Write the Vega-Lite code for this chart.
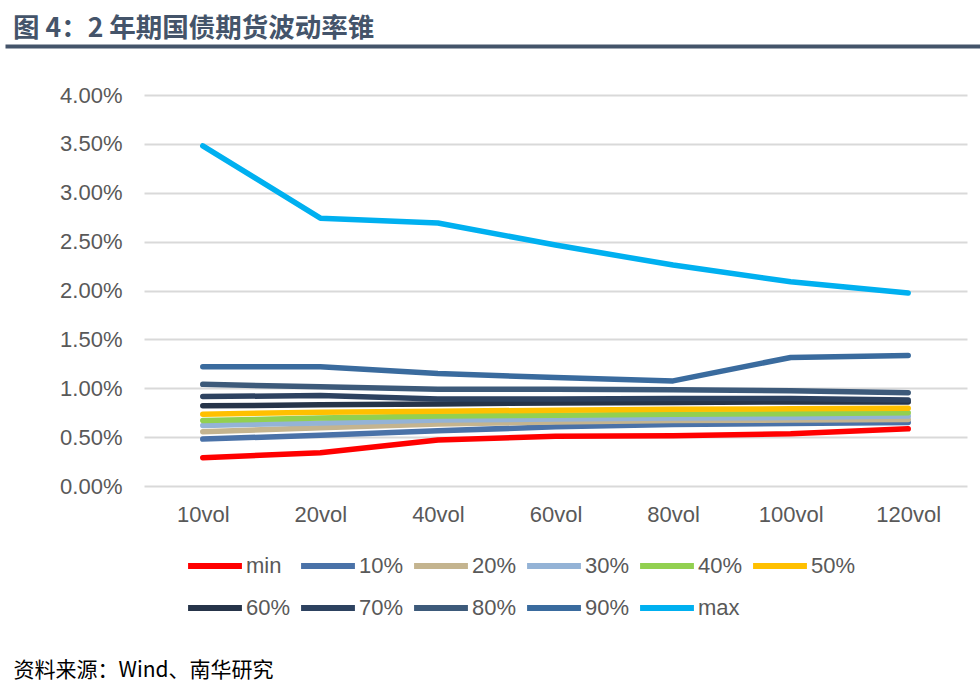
{
  "$schema": "https://vega.github.io/schema/vega-lite/v6.json",
  "autosize": {"type": "none"},
  "padding": {"left": 144, "top": 95, "right": 13, "bottom": 209},
  "width": 823,
  "height": 391,
  "background": "white",
  "title": {
    "text": "图 4：2 年期国债期货波动率锥",
    "anchor": "start",
    "frame": "group",
    "dx": -131,
    "offset": 4,
    "fontSize": 26.5,
    "fontWeight": "bold",
    "font": "Noto Sans CJK SC",
    "color": "#44546A"
  },
  "config": {
    "view": {"stroke": null},
    "font": "Liberation Sans"
  },
  "data": {
    "values": [
      {"period": "10vol", "series": "min", "value": 0.0029},
      {"period": "20vol", "series": "min", "value": 0.0034},
      {"period": "40vol", "series": "min", "value": 0.0047},
      {"period": "60vol", "series": "min", "value": 0.0051},
      {"period": "80vol", "series": "min", "value": 0.00515},
      {"period": "100vol", "series": "min", "value": 0.00535},
      {"period": "120vol", "series": "min", "value": 0.00585},
      {"period": "10vol", "series": "10%", "value": 0.0048},
      {"period": "20vol", "series": "10%", "value": 0.0052},
      {"period": "40vol", "series": "10%", "value": 0.00565},
      {"period": "60vol", "series": "10%", "value": 0.00605},
      {"period": "80vol", "series": "10%", "value": 0.0063},
      {"period": "100vol", "series": "10%", "value": 0.0064},
      {"period": "120vol", "series": "10%", "value": 0.0065},
      {"period": "10vol", "series": "20%", "value": 0.00555},
      {"period": "20vol", "series": "20%", "value": 0.00595},
      {"period": "40vol", "series": "20%", "value": 0.00635},
      {"period": "60vol", "series": "20%", "value": 0.00655},
      {"period": "80vol", "series": "20%", "value": 0.0067},
      {"period": "100vol", "series": "20%", "value": 0.00675},
      {"period": "120vol", "series": "20%", "value": 0.0068},
      {"period": "10vol", "series": "30%", "value": 0.0062},
      {"period": "20vol", "series": "30%", "value": 0.00645},
      {"period": "40vol", "series": "30%", "value": 0.00675},
      {"period": "60vol", "series": "30%", "value": 0.00685},
      {"period": "80vol", "series": "30%", "value": 0.00695},
      {"period": "100vol", "series": "30%", "value": 0.007},
      {"period": "120vol", "series": "30%", "value": 0.00715},
      {"period": "10vol", "series": "40%", "value": 0.0067},
      {"period": "20vol", "series": "40%", "value": 0.00695},
      {"period": "40vol", "series": "40%", "value": 0.00715},
      {"period": "60vol", "series": "40%", "value": 0.00725},
      {"period": "80vol", "series": "40%", "value": 0.00735},
      {"period": "100vol", "series": "40%", "value": 0.0074},
      {"period": "120vol", "series": "40%", "value": 0.0075},
      {"period": "10vol", "series": "50%", "value": 0.00735},
      {"period": "20vol", "series": "50%", "value": 0.00755},
      {"period": "40vol", "series": "50%", "value": 0.00765},
      {"period": "60vol", "series": "50%", "value": 0.00775},
      {"period": "80vol", "series": "50%", "value": 0.00785},
      {"period": "100vol", "series": "50%", "value": 0.0079},
      {"period": "120vol", "series": "50%", "value": 0.00795},
      {"period": "10vol", "series": "60%", "value": 0.0082},
      {"period": "20vol", "series": "60%", "value": 0.0083},
      {"period": "40vol", "series": "60%", "value": 0.0084},
      {"period": "60vol", "series": "60%", "value": 0.0085},
      {"period": "80vol", "series": "60%", "value": 0.00855},
      {"period": "100vol", "series": "60%", "value": 0.0086},
      {"period": "120vol", "series": "60%", "value": 0.0086},
      {"period": "10vol", "series": "70%", "value": 0.00915},
      {"period": "20vol", "series": "70%", "value": 0.00925},
      {"period": "40vol", "series": "70%", "value": 0.0089},
      {"period": "60vol", "series": "70%", "value": 0.0089},
      {"period": "80vol", "series": "70%", "value": 0.00895},
      {"period": "100vol", "series": "70%", "value": 0.00895},
      {"period": "120vol", "series": "70%", "value": 0.0088},
      {"period": "10vol", "series": "80%", "value": 0.0104},
      {"period": "20vol", "series": "80%", "value": 0.01015},
      {"period": "40vol", "series": "80%", "value": 0.0099},
      {"period": "60vol", "series": "80%", "value": 0.0099},
      {"period": "80vol", "series": "80%", "value": 0.00985},
      {"period": "100vol", "series": "80%", "value": 0.00975},
      {"period": "120vol", "series": "80%", "value": 0.00955},
      {"period": "10vol", "series": "90%", "value": 0.0122},
      {"period": "20vol", "series": "90%", "value": 0.0122},
      {"period": "40vol", "series": "90%", "value": 0.0115},
      {"period": "60vol", "series": "90%", "value": 0.0111},
      {"period": "80vol", "series": "90%", "value": 0.01075},
      {"period": "100vol", "series": "90%", "value": 0.01315},
      {"period": "120vol", "series": "90%", "value": 0.01335},
      {"period": "10vol", "series": "max", "value": 0.0348},
      {"period": "20vol", "series": "max", "value": 0.0274},
      {"period": "40vol", "series": "max", "value": 0.0269},
      {"period": "60vol", "series": "max", "value": 0.02465},
      {"period": "80vol", "series": "max", "value": 0.0226},
      {"period": "100vol", "series": "max", "value": 0.0209},
      {"period": "120vol", "series": "max", "value": 0.01975}
    ]
  },
  "layer": [
    {
      "mark": {"type": "line", "strokeWidth": 5.5, "strokeCap": "round", "strokeJoin": "round"},
      "encoding": {
        "x": {
          "field": "period",
          "type": "nominal",
          "sort": ["10vol", "20vol", "40vol", "60vol", "80vol", "100vol", "120vol"],
          "scale": {"type": "point", "padding": 0.5},
          "axis": {
            "title": "资料来源：Wind、南华研究",
            "titleX": -131,
            "titleY": 184,
            "titleAlign": "left",
            "titleBaseline": "middle",
            "titleAngle": 0,
            "titleFont": "Noto Sans CJK SC",
            "titleFontSize": 21,
            "titleFontWeight": "normal",
            "titleColor": "#000000",
            "labelAngle": 0,
            "labelFontSize": 22,
            "labelColor": "#595959",
            "labelPadding": 18,
            "ticks": false,
            "domain": false,
            "grid": false
          }
        },
        "y": {
          "field": "value",
          "type": "quantitative",
          "scale": {"domain": [0, 0.04], "nice": false},
          "axis": {
            "title": null,
            "format": ".2%",
            "values": [0, 0.005, 0.01, 0.015, 0.02, 0.025, 0.03, 0.035, 0.04],
            "labelFontSize": 22,
            "labelColor": "#595959",
            "labelPadding": 22,
            "ticks": false,
            "domain": false,
            "grid": true,
            "gridColor": "#D9D9D9",
            "gridWidth": 2
          }
        },
        "color": {
          "field": "series",
          "type": "nominal",
          "scale": {
            "domain": ["min", "10%", "20%", "30%", "40%", "50%", "60%", "70%", "80%", "90%", "max"],
            "range": ["#FF0000", "#4A72A8", "#C4B48F", "#94B3D6", "#92D050", "#FFC000", "#263449", "#2D4260", "#3D5A7A", "#3A6B9E", "#00B0F0"]
          },
          "legend": {
            "title": null,
            "orient": "none",
            "direction": "horizontal",
            "legendX": 41,
            "legendY": 441,
            "columns": 6,
            "gridAlign": "none",
            "symbolType": "stroke",
            "symbolSize": 2900,
            "symbolStrokeWidth": 6,
            "labelFontSize": 22,
            "labelColor": "#595959",
            "labelOffset": 1,
            "columnPadding": -2,
            "rowPadding": 0
          }
        }
      }
    },
    {
      "mark": {"type": "point", "opacity": 0},
      "encoding": {
        "x": {
          "field": "value",
          "type": "quantitative",
          "scale": {"range": [-139, 836]},
          "axis": {
            "orient": "top",
            "offset": 49,
            "title": null,
            "labels": false,
            "ticks": false,
            "grid": false,
            "domain": true,
            "domainColor": "#44546A",
            "domainWidth": 4
          }
        },
        "y": {"field": "value", "type": "quantitative"}
      }
    }
  ],
  "resolve": {"scale": {"x": "independent"}, "axis": {"x": "independent"}}
}
